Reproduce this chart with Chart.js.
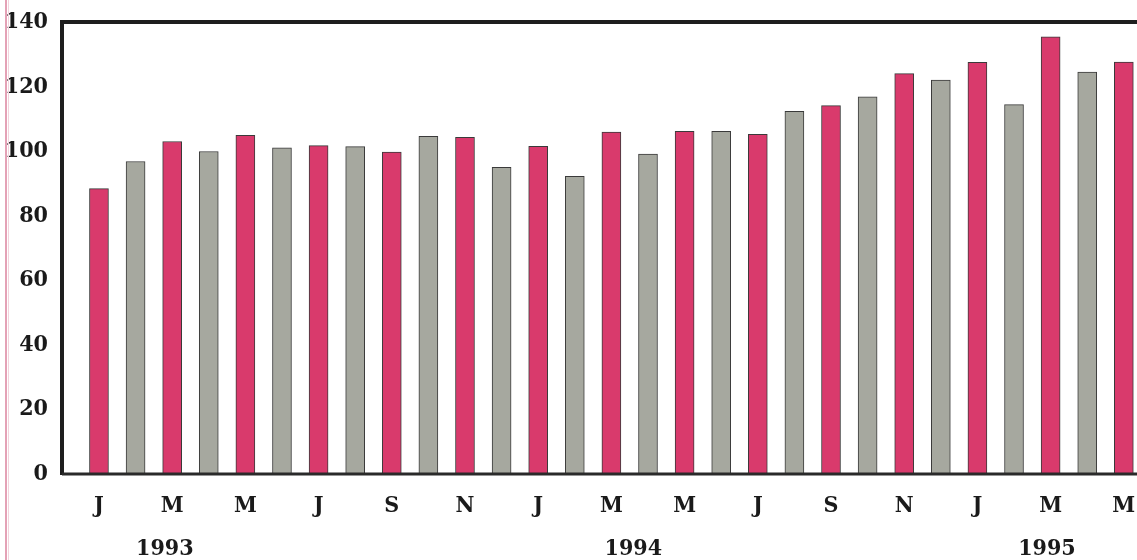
<!DOCTYPE html>
<html>
<head>
<meta charset="utf-8">
<script src="https://cdn.jsdelivr.net/npm/chart.js@4.4.1/dist/chart.umd.min.js"></script>
<style>
  html, body { margin: 0; padding: 0; background: #fff; }
  #wrap { position: relative; width: 1137px; height: 560px; }
  #edge { position: absolute; left: 5px; top: 0; width: 2px; height: 560px; background: #e4a2b6; }
  #edge2 { position: absolute; left: 8px; top: 0; width: 1px; height: 560px; background: #f3d3dd; }
</style>
</head>
<body>
<div id="wrap">
  <canvas id="c" width="1137" height="560"></canvas>
  <div id="edge"></div><div id="edge2"></div>
</div>
<script>
// monthly index, Jan 1993 .. May 1995
const months = ['J','F','M','A','M','J','J','A','S','O','N','D',
                'J','F','M','A','M','J','J','A','S','O','N','D',
                'J','F','M','A','M'];
const values = [88.4, 96.8, 103.0, 99.9, 104.9, 101.0, 101.7, 101.4, 99.7, 104.6, 104.3, 95.0,
                101.5, 92.2, 105.9, 99.1, 106.1, 106.1, 105.2, 112.3, 114.1, 116.8, 124.0, 122.0,
                127.5, 114.4, 135.4, 124.5, 127.6];
const yTicks = [0, 20, 40, 60, 80, 100, 120, 140];
const years = ['1993', '1994', '1995'];
const yearAt = [1.8, 14.6, 25.9];   // month index each year label sits under

const RED = '#d93a6c';
const GREY = '#a6a89f';
const FONT = { family: "'DejaVu Serif Condensed', 'DejaVu Serif', serif", weight: 'bold', size: 23 };

const points = values.map((v, i) => ({ x: i, y: v }));

// frame lines + year captions
const frame = {
  id: 'frame',
  afterDatasetsDraw(chart) {
    const { ctx, chartArea: a, scales } = chart;
    ctx.save();
    ctx.strokeStyle = '#1e1e1e';
    ctx.lineWidth = 4;
    ctx.beginPath();
    ctx.moveTo(a.left, a.bottom + 1);
    ctx.lineTo(a.left, a.top);
    ctx.lineTo(a.right, a.top);
    ctx.stroke();
    ctx.lineWidth = 3;
    ctx.strokeStyle = '#2a2a2a';
    ctx.beginPath();
    ctx.moveTo(a.left, a.bottom);
    ctx.lineTo(a.right, a.bottom);
    ctx.stroke();

    ctx.fillStyle = '#1a1a1a';
    ctx.font = `${FONT.weight} ${FONT.size}px ${FONT.family}`;
    ctx.textAlign = 'center';
    ctx.textBaseline = 'middle';
    years.forEach((y, k) => {
      ctx.fillText(y, scales.x.getPixelForValue(yearAt[k]), a.bottom + 75);
    });
    ctx.restore();
  }
};

new Chart(document.getElementById('c'), {
  type: 'bar',
  data: {
    datasets: [{
      data: points,
      backgroundColor: values.map((v, i) => i % 2 === 0 ? RED : GREY),
      borderColor: '#3a3a3a',
      borderWidth: 1,
      borderSkipped: false,
      barThickness: 19
    }]
  },
  options: {
    responsive: false,
    animation: false,
    layout: { padding: { top: 22, right: 0, bottom: 0, left: 0 } },
    plugins: { legend: { display: false }, tooltip: { enabled: false } },
    scales: {
      x: {
        type: 'linear',
        offset: false,
        min: -1.01,
        max: 28.36,
        grid: { display: false, drawTicks: false },
        border: { display: false },
        afterBuildTicks: (s) => { s.ticks = months.map((m, i) => ({ value: i })).filter(t => t.value % 2 === 0); },
        afterFit: (s) => { s.height = 86; s.paddingLeft = 0; s.paddingRight = 0; },
        ticks: {
          autoSkip: false,
          maxRotation: 0,
          padding: 18,
          color: '#1a1a1a',
          font: FONT,
          callback: (v) => months[v]
        }
      },
      y: {
        min: 0,
        max: 140,
        grid: { display: false, drawTicks: false },
        border: { display: false },
        afterBuildTicks: (s) => { s.ticks = yTicks.map(v => ({ value: v })); },
        afterFit: (s) => { s.width = 62; s.paddingTop = 0; s.paddingBottom = 0; },
        ticks: { padding: 14, color: '#1a1a1a', font: FONT }
      }
    }
  },
  plugins: [frame]
});
</script>
</body>
</html>
